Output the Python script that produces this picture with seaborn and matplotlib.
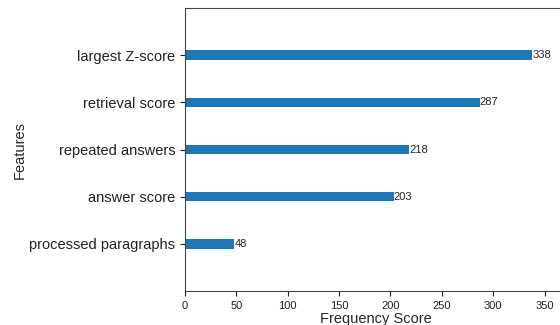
import matplotlib
matplotlib.use("Agg")
import matplotlib.pyplot as plt
import seaborn as sns
import pandas as pd

features = ["largest Z-score", "retrieval score", "repeated answers",
            "answer score", "processed paragraphs"]
scores = [338, 287, 218, 203, 48]
xticks = [0, 50, 100, 150, 200, 250, 300, 350]

sns.set_style("ticks")
plt.rcParams["font.family"] = ["Liberation Sans", "DejaVu Sans"]

df = pd.DataFrame({"Features": features, "Frequency Score": scores})

fig = plt.figure(figsize=(5.6, 3.25), dpi=100)
ax = fig.add_axes([185 / 560, 34 / 325, 382 / 560, 283 / 325])

sns.barplot(data=df, y="Features", x="Frequency Score", order=features,
            orient="h", width=0.2, color="#1f77b4", saturation=1,
            linewidth=0, ax=ax)

for i, v in enumerate(scores):
    ax.text(v, i, str(v), va="center", ha="left", fontsize=8)

ax.set_xlim(0, max(scores) * 1.1)
ax.set_ylim(5, -1)
ax.set_xticks(xticks)
ax.tick_params(axis="y", labelsize=10.5, colors="#222222")
ax.tick_params(axis="x", labelsize=8, colors="#222222")
ax.set_xlabel("Frequency Score", fontsize=10.5, labelpad=1)
ax.set_ylabel("Features", fontsize=10.5, labelpad=2)
for s in ax.spines.values():
    s.set_color("#444444")

fig.savefig("out.png", dpi=100)
